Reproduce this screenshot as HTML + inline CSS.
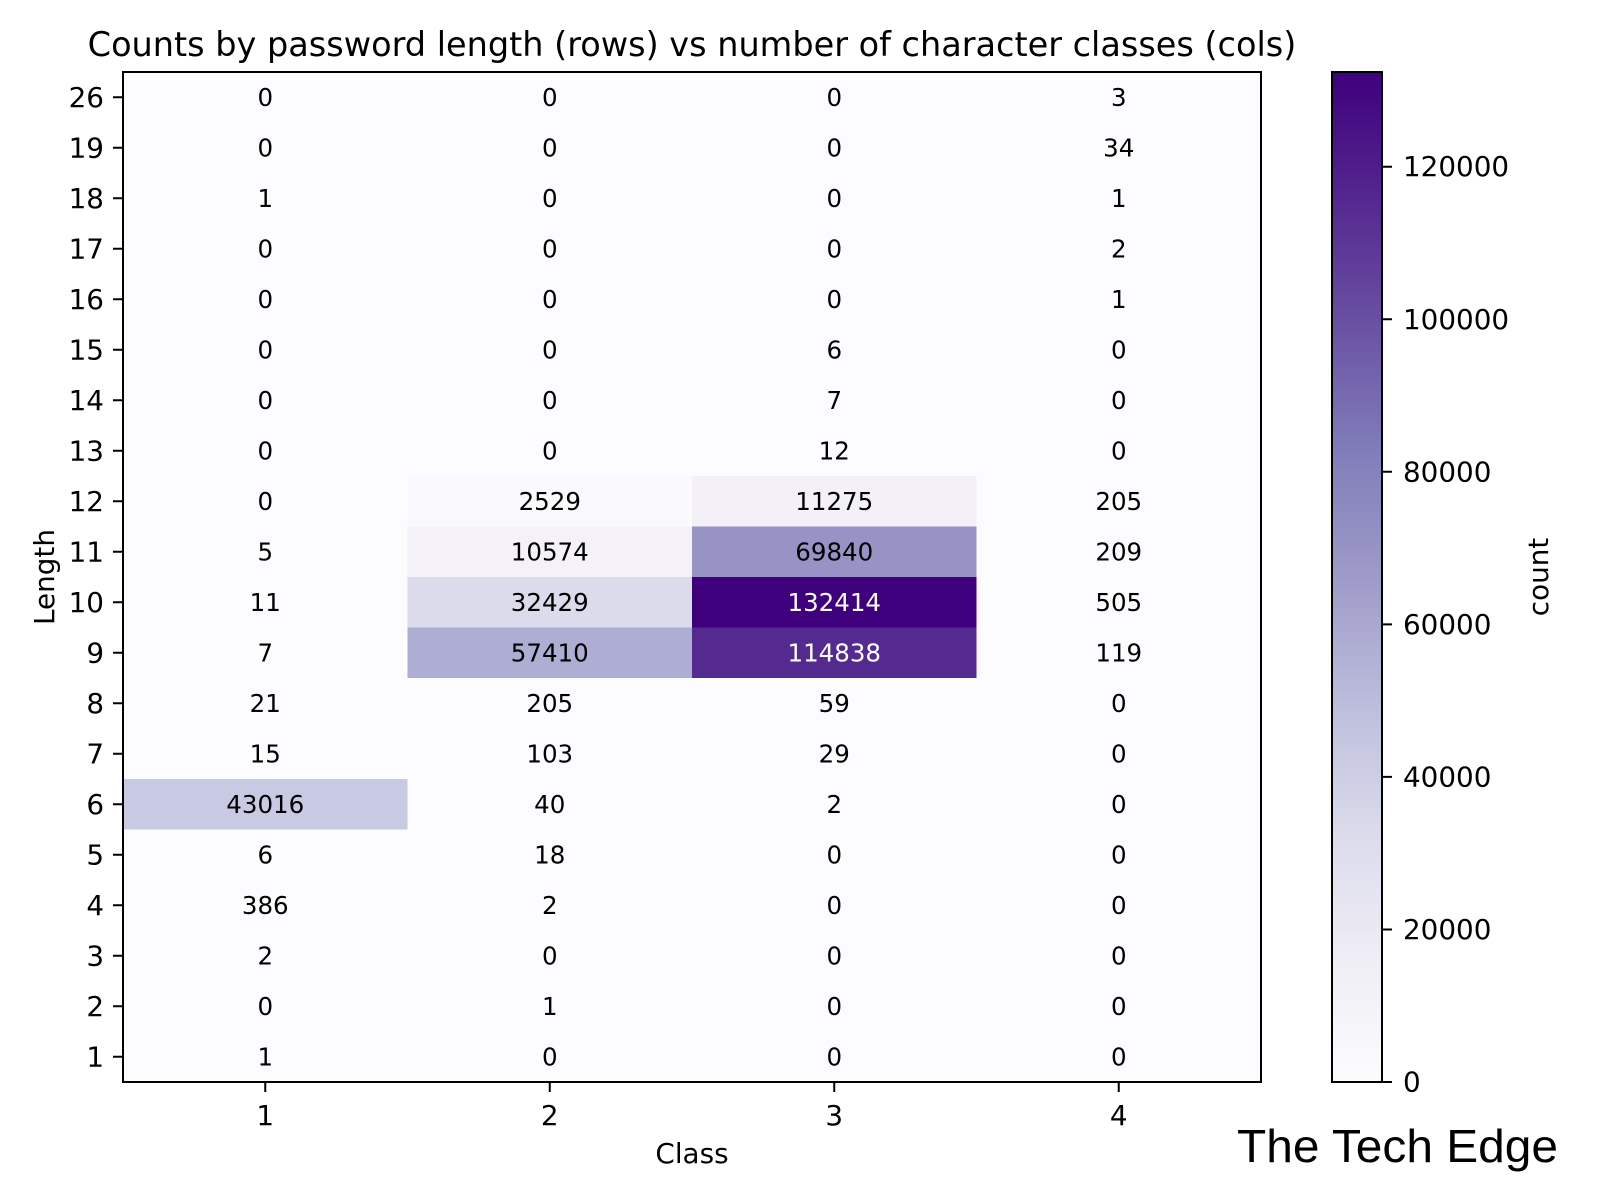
<!DOCTYPE html>
<html><head><meta charset="utf-8"><style>body{margin:0;background:#fff}svg{display:block}text{font-family:"DejaVu Sans","Liberation Sans",sans-serif}</style></head><body>
<svg width="1600" height="1200" viewBox="0 0 1600 1200" xmlns="http://www.w3.org/2000/svg">
<defs><linearGradient id="cm" x1="0" y1="1" x2="0" y2="0">
<stop offset="0" stop-color="#fcfbfd"/><stop offset=".125" stop-color="#efedf5"/><stop offset=".25" stop-color="#dadaeb"/><stop offset=".375" stop-color="#bcbddc"/><stop offset=".5" stop-color="#9e9ac8"/><stop offset=".625" stop-color="#807dba"/><stop offset=".75" stop-color="#6a51a3"/><stop offset=".875" stop-color="#54278f"/><stop offset="1" stop-color="#3f007d"/></linearGradient></defs>
<text x="692" y="56" font-size="33.5" text-anchor="middle">Counts by password length (rows) vs number of character classes (cols)</text>
<rect x="123" y="72" width="1138" height="1010" fill="#fcfbfd"/>
<rect x="407.5" y="476" width="284.5" height="50.5" fill="#fafafc"/>
<rect x="692" y="476" width="284.5" height="50.5" fill="#f3f1f7"/>
<rect x="407.5" y="526.5" width="284.5" height="50.5" fill="#f4f2f8"/>
<rect x="692" y="526.5" width="284.5" height="50.5" fill="#9794c5"/>
<rect x="407.5" y="577" width="284.5" height="50.5" fill="#dcdbec"/>
<rect x="692" y="577" width="284.5" height="50.5" fill="#3f007d"/>
<rect x="407.5" y="627.5" width="284.5" height="50.5" fill="#aeadd3"/>
<rect x="692" y="627.5" width="284.5" height="50.5" fill="#552a90"/>
<rect x="123" y="779" width="284.5" height="50.5" fill="#c8c9e2"/>
<rect x="123" y="72" width="1138" height="1010" fill="none" stroke="#000" stroke-width="2"/>
<g font-size="24.5" text-anchor="middle" dominant-baseline="central">
<g transform="translate(0,97.25)"><text x="265.25">0</text><text x="549.75">0</text><text x="834.25">0</text><text x="1118.75">3</text></g>
<g transform="translate(0,147.75)"><text x="265.25">0</text><text x="549.75">0</text><text x="834.25">0</text><text x="1118.75">34</text></g>
<g transform="translate(0,198.25)"><text x="265.25">1</text><text x="549.75">0</text><text x="834.25">0</text><text x="1118.75">1</text></g>
<g transform="translate(0,248.75)"><text x="265.25">0</text><text x="549.75">0</text><text x="834.25">0</text><text x="1118.75">2</text></g>
<g transform="translate(0,299.25)"><text x="265.25">0</text><text x="549.75">0</text><text x="834.25">0</text><text x="1118.75">1</text></g>
<g transform="translate(0,349.75)"><text x="265.25">0</text><text x="549.75">0</text><text x="834.25">6</text><text x="1118.75">0</text></g>
<g transform="translate(0,400.25)"><text x="265.25">0</text><text x="549.75">0</text><text x="834.25">7</text><text x="1118.75">0</text></g>
<g transform="translate(0,450.75)"><text x="265.25">0</text><text x="549.75">0</text><text x="834.25">12</text><text x="1118.75">0</text></g>
<g transform="translate(0,501.25)"><text x="265.25">0</text><text x="549.75">2529</text><text x="834.25">11275</text><text x="1118.75">205</text></g>
<g transform="translate(0,551.75)"><text x="265.25">5</text><text x="549.75">10574</text><text x="834.25">69840</text><text x="1118.75">209</text></g>
<g transform="translate(0,602.25)"><text x="265.25">11</text><text x="549.75">32429</text><text x="834.25" fill="#fff">132414</text><text x="1118.75">505</text></g>
<g transform="translate(0,652.75)"><text x="265.25">7</text><text x="549.75">57410</text><text x="834.25" fill="#fff">114838</text><text x="1118.75">119</text></g>
<g transform="translate(0,703.25)"><text x="265.25">21</text><text x="549.75">205</text><text x="834.25">59</text><text x="1118.75">0</text></g>
<g transform="translate(0,753.75)"><text x="265.25">15</text><text x="549.75">103</text><text x="834.25">29</text><text x="1118.75">0</text></g>
<g transform="translate(0,804.25)"><text x="265.25">43016</text><text x="549.75">40</text><text x="834.25">2</text><text x="1118.75">0</text></g>
<g transform="translate(0,854.75)"><text x="265.25">6</text><text x="549.75">18</text><text x="834.25">0</text><text x="1118.75">0</text></g>
<g transform="translate(0,905.25)"><text x="265.25">386</text><text x="549.75">2</text><text x="834.25">0</text><text x="1118.75">0</text></g>
<g transform="translate(0,955.75)"><text x="265.25">2</text><text x="549.75">0</text><text x="834.25">0</text><text x="1118.75">0</text></g>
<g transform="translate(0,1006.25)"><text x="265.25">0</text><text x="549.75">1</text><text x="834.25">0</text><text x="1118.75">0</text></g>
<g transform="translate(0,1056.75)"><text x="265.25">1</text><text x="549.75">0</text><text x="834.25">0</text><text x="1118.75">0</text></g>
</g>
<g stroke="#000" stroke-width="2">
<path d="M113 97.25H123M113 147.75H123M113 198.25H123M113 248.75H123M113 299.25H123M113 349.75H123M113 400.25H123M113 450.75H123M113 501.25H123M113 551.75H123M113 602.25H123M113 652.75H123M113 703.25H123M113 753.75H123M113 804.25H123M113 854.75H123M113 905.25H123M113 955.75H123M113 1006.25H123M113 1056.75H123"/>
<path d="M265.25 1082V1092M549.75 1082V1092M834.25 1082V1092M1118.75 1082V1092"/>
</g>
<g font-size="27.8" text-anchor="end" dominant-baseline="central">
<text x="104" y="97.25">26</text><text x="104" y="147.75">19</text><text x="104" y="198.25">18</text><text x="104" y="248.75">17</text><text x="104" y="299.25">16</text><text x="104" y="349.75">15</text><text x="104" y="400.25">14</text><text x="104" y="450.75">13</text><text x="104" y="501.25">12</text><text x="104" y="551.75">11</text><text x="104" y="602.25">10</text><text x="104" y="652.75">9</text><text x="104" y="703.25">8</text><text x="104" y="753.75">7</text><text x="104" y="804.25">6</text><text x="104" y="854.75">5</text><text x="104" y="905.25">4</text><text x="104" y="955.75">3</text><text x="104" y="1006.25">2</text><text x="104" y="1056.75">1</text>
</g>
<g font-size="27.8" text-anchor="middle">
<text x="265.25" y="1125">1</text><text x="549.75" y="1125">2</text><text x="834.25" y="1125">3</text><text x="1118.75" y="1125">4</text>
<text x="692" y="1163">Class</text>
<text transform="translate(54,577) rotate(-90)">Length</text>
<text transform="translate(1548,577) rotate(-90)">count</text>
</g>
<rect x="1332" y="72" width="50" height="1010" fill="url(#cm)" stroke="#000" stroke-width="2"/>
<path d="M1382 1082H1392M1382 929.45H1392M1382 776.9H1392M1382 624.4H1392M1382 471.8H1392M1382 319.3H1392M1382 166.7H1392" stroke="#000" stroke-width="2"/>
<g font-size="27.8" dominant-baseline="central">
<text x="1403" y="1082">0</text><text x="1403" y="929.45">20000</text><text x="1403" y="776.9">40000</text><text x="1403" y="624.4">60000</text><text x="1403" y="471.8">80000</text><text x="1403" y="319.3">100000</text><text x="1403" y="166.7">120000</text>
</g>
<text x="1237" y="1162" font-size="46" textLength="321" lengthAdjust="spacingAndGlyphs" style="font-family:'Liberation Sans',sans-serif">The Tech Edge</text>
</svg>
</body></html>
